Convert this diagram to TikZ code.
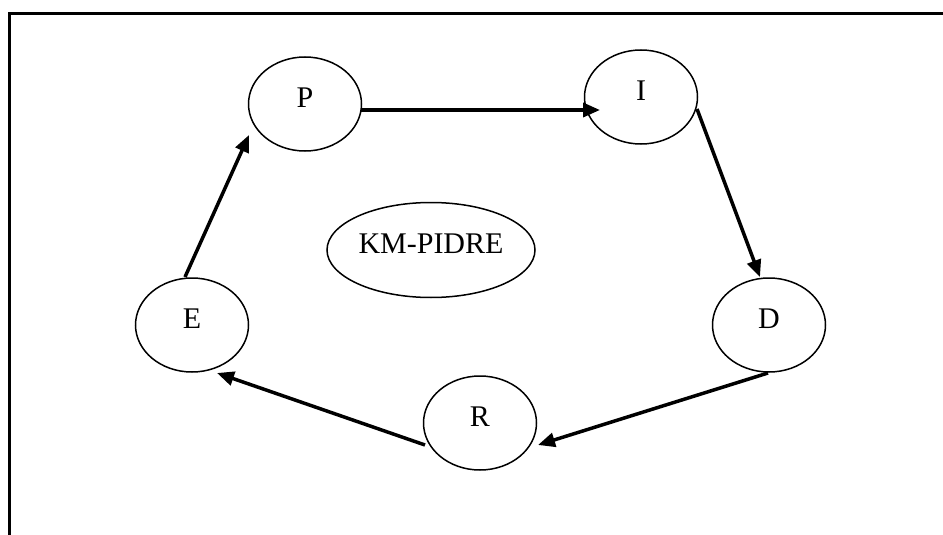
\documentclass[tikz,border=0pt]{standalone}
\usepackage{fontspec}
\setmainfont{Liberation Serif}
\usetikzlibrary{shapes.geometric,arrows.meta,calc}
\begin{document}
\begin{tikzpicture}[x=1pt,y=-1pt,
  state/.style={ellipse,draw,line width=1.5pt,minimum width=113pt,minimum height=94pt,
    inner sep=0pt,text depth=12pt,font=\fontsize{30}{36}\selectfont},
  centre/.style={state,minimum width=208pt,minimum height=95pt},
  flow/.style={line width=3.5pt,-{Triangle[length=17pt,width=14pt]}}]
\useasboundingbox (0,0) rectangle (943,535);
\draw[line width=3pt] (9,535) -- (9,13.5) -- (943,13.5);
\node[state] (P) at (305,104) {P};
\node[state] (I) at (641,97) {I};
\node[state] (E) at (192,325) {E};
\node[state] (D) at (769,325) {D};
\node[state] (R) at (480,423) {R};
\node[centre] (K) at (431,250) {KM-PIDRE};
\draw[flow] ($(P)+(56,6)$) -- ($(I)+(-41,13)$);
\draw[flow] ($(I)+(56,12)$) -- ($(D)+(-9,-48)$);
\draw[flow] ($(D)+(-1,48)$) -- ($(R)+(58,22)$);
\draw[flow] ($(R)+(-55,22)$) -- ($(E)+(25,48)$);
\draw[flow] ($(E)+(-7,-48)$) -- ($(P)+(-56,31)$);
\end{tikzpicture}
\end{document}
